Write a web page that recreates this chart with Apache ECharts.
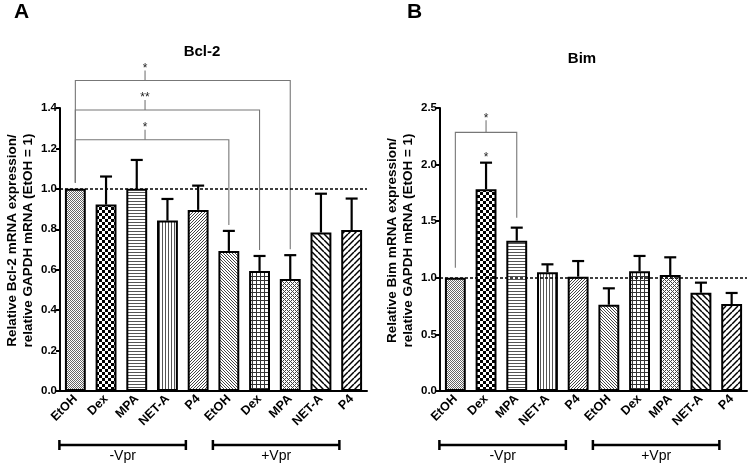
<!DOCTYPE html>
<html><head><meta charset="utf-8">
<script src="https://cdn.jsdelivr.net/npm/echarts@6/dist/echarts.min.js"></script>
<style>html,body{margin:0;padding:0;background:#fff}#c{width:751px;height:468px}</style>
</head><body><div id="c"></div>
<script>
// ---------------- data ----------------
const categories = ['EtOH','Dex','MPA','NET-A','P4','EtOH','Dex','MPA','NET-A','P4'];
const groupLabels = ['-Vpr','+Vpr'];
const groupFirst = [0,5];
const groupLast = [4,9];
const referenceLevel = 1.0;

const bclTitle = 'Bcl-2';
const bclYTicks = [0,0.2,0.4,0.6,0.8,1.0,1.2,1.4];
const bclMean = [1.0,0.922,1.0,0.843,0.896,0.693,0.594,0.554,0.784,0.796];
const bclSem  = [0,0.139,0.143,0.107,0.120,0.099,0.074,0.118,0.192,0.156];
const bclSigFrom  = [0,0,0];
const bclSigTo    = [5,6,7];
const bclSigLevel = [1.243,1.39,1.536];
const bclSigLabel = ['*','**','*'];
const bclBarSig = ['','','','','','','','','',''];

const bimTitle = 'Bim';
const bimYTicks = [0,0.5,1.0,1.5,2.0,2.5];
const bimMean = [1.0,1.782,1.328,1.049,1.010,0.762,1.057,1.025,0.868,0.768];
const bimSem  = [0,0.235,0.115,0.070,0.138,0.145,0.136,0.156,0.089,0.098];
const bimSigFrom  = [0];
const bimSigTo    = [2];
const bimSigLevel = [2.285];
const bimSigLabel = ['*'];
const bimBarSig = ['','*','','','','','','','',''];

// ---------------- styles ----------------
const FONT = "'Liberation Sans', Arial, Helvetica, sans-serif";

function tile(w, h, draw){
  const c = document.createElement('canvas'); c.width = w; c.height = h;
  const g = c.getContext('2d');
  g.fillStyle = '#fff'; g.fillRect(0,0,w,h);
  draw(g, w, h);
  return {image: c, repeat: 'repeat'};
}
function px(g, pts, col){ g.fillStyle = col; pts.forEach(p => g.fillRect(p[0], p[1], 1, 1)); }
function diagStroke(g, w, h, dir, lw){
  g.strokeStyle = '#000'; g.lineWidth = lw;
  for (let k = -w; k <= w; k += w){
    g.beginPath();
    if (dir > 0){ g.moveTo(k, h); g.lineTo(k + w, 0); }
    else { g.moveTo(k, 0); g.lineTo(k + w, h); }
    g.stroke();
  }
}
const patterns = [
  tile(2,2,(g)=>px(g,[[0,0],[1,1]],'#666')),                          // fine stipple
  tile(6,6,(g)=>{g.fillStyle='#000';g.fillRect(0,0,3,3);g.fillRect(3,3,3,3);}), // checker
  tile(1,3,(g)=>px(g,[[0,0]],'#555')),                                 // horizontal lines
  tile(3,1,(g)=>px(g,[[0,0]],'#555')),                                 // vertical lines
  tile(3,3,(g)=>px(g,[[2,0],[1,1],[0,2]],'#444')),                     // fine /
  tile(3,3,(g)=>px(g,[[0,0],[1,1],[2,2]],'#444')),                     // fine \
  tile(4,4,(g)=>{g.fillStyle='#333';g.fillRect(0,0,4,1);g.fillRect(0,0,1,4);}), // grid
  tile(4,4,(g)=>px(g,[[3,0],[2,1],[1,2],[0,3],[1,0],[3,2]],'#444')),   // weave
  tile(6,6,(g,w,h)=>diagStroke(g,w,h,-1,1.5)),                         // wide \
  tile(6,6,(g,w,h)=>diagStroke(g,w,h,1,1.5))                           // wide /
];

// ---------------- builders ----------------
const gridTop = 108, gridH = 283, gridW = 307;
const panels = [
  {left:60, title:bclTitle, ticks:bclYTicks, mean:bclMean, sem:bclSem,
   sigFrom:bclSigFrom, sigTo:bclSigTo, sigLevel:bclSigLevel, sigLabel:bclSigLabel, barSig:bclBarSig,
   name:'Relative Bcl-2 mRNA expression/\nrelative GAPDH mRNA (EtOH = 1)',
   tickAt:2.27, gap:6, tickLen:10, titleY:52, letter:'A', letterX:14},
  {left:440, title:bimTitle, ticks:bimYTicks, mean:bimMean, sem:bimSem,
   sigFrom:bimSigFrom, sigTo:bimSigTo, sigLevel:bimSigLevel, sigLabel:bimSigLabel, barSig:bimBarSig,
   name:'Relative Bim mRNA expression/\nrelative GAPDH mRNA (EtOH = 1)',
   tickAt:null, gap:10, tickLen:12, titleY:59, letter:'B', letterX:407}
];

const grid = [], xAxis = [], yAxis = [], series = [], graphic = [];
panels.forEach((P, k) => {
  grid.push({left:P.left, top:gridTop, width:gridW, height:gridH, outerBoundsMode:'none', containLabel:false});
  xAxis.push({type:'category', gridIndex:k, data:categories,
    axisLine:{lineStyle:{color:'#000', width:2}},
    axisTick:{alignWithLabel:true, length:4, lineStyle:{color:'#000', width:1.5}},
    axisLabel:{rotate:45, fontSize:12.5, fontWeight:'bold', color:'#000', fontFamily:FONT, margin:6, interval:0},
    splitLine:{show:false}});
  const t = P.ticks;
  yAxis.push({type:'value', gridIndex:k, min:t[0], max:t[t.length-1], interval:t[1]-t[0],
    name:P.name, nameLocation:'middle', nameGap:40, nameRotate:90,
    nameTextStyle:{fontSize:13.5, fontWeight:'bold', color:'#000', fontFamily:FONT, lineHeight:16,
      align:'center', verticalAlign:'middle', padding:[0,0,0,18]},
    axisLine:{show:true, lineStyle:{color:'#000', width:2}},
    axisTick:{show:true, length:4, lineStyle:{color:'#000', width:2}},
    axisLabel:{formatter:v=>v.toFixed(1), fontSize:11.5, fontWeight:'bold', color:'#000', fontFamily:FONT, margin:3},
    splitLine:{show:false}});

  // reference dashed line
  series.push({type:'line', xAxisIndex:k, yAxisIndex:k, data:[], z:1, silent:true,
    markLine:{silent:true, symbol:'none', label:{show:false},
      lineStyle:{color:'#000', type:[3,2], width:1.5},
      data:[{yAxis:referenceLevel}]}});

  // bars
  series.push({type:'bar', xAxisIndex:k, yAxisIndex:k, z:2, barWidth:'68%',
    itemStyle:{borderColor:'#000', borderWidth:2},
    data:P.mean.map((v,i)=>({value:v, itemStyle:{color:patterns[i]}}))});

  // error bars (upper only) + per-bar significance
  series.push({type:'custom', xAxisIndex:k, yAxisIndex:k, z:3, silent:true,
    encode:{x:0, y:1},
    data:P.mean.map((v,i)=>[i, v, P.sem[i]]),
    renderItem:(params, api)=>{
      const i = api.value(0), m = api.value(1), s = api.value(2);
      const p0 = api.coord([i, m]), p1 = api.coord([i, m + s]);
      const ch = [];
      if (s > 0){
        ch.push({type:'line', shape:{x1:p0[0], y1:p0[1], x2:p1[0], y2:p1[1]}, style:{stroke:'#000', lineWidth:2.2}});
        ch.push({type:'line', shape:{x1:p1[0]-6, y1:p1[1], x2:p1[0]+6, y2:p1[1]}, style:{stroke:'#000', lineWidth:2.2}});
      }
      const st = P.barSig[params.dataIndex];
      if (st) ch.push({type:'text', style:{text:st, x:p1[0], y:p1[1]-5, align:'center', verticalAlign:'middle',
        font:'12px ' + FONT, fill:'#222'}});
      return {type:'group', children:ch};
    }});

  // significance brackets
  series.push({type:'custom', xAxisIndex:k, yAxisIndex:k, z:4, silent:true, clip:false,
    encode:{x:0, y:2},
    data:P.sigFrom.map((f,j)=>[f, P.sigTo[j], P.sigLevel[j], j]),
    renderItem:(params, api)=>{
      const f = api.value(0), to = api.value(1), lev = api.value(2), j = api.value(3);
      const pF = api.coord([f, lev]), pT = api.coord([to, lev]);
      const yL = api.coord([f, P.mean[f] + P.sem[f]])[1] - P.gap;
      const yR = api.coord([to, P.mean[to] + P.sem[to]])[1] - P.gap;
      const band = api.size([1, 0])[0];
      const tx = P.tickAt == null ? (pF[0] + pT[0]) / 2 : api.coord([0, lev])[0] + P.tickAt * band;
      const top = pF[1] - P.tickLen;
      return {type:'group', children:[
        {type:'polyline', shape:{points:[[pF[0], yL],[pF[0], pF[1]],[pT[0], pT[1]],[pT[0], yR]]},
          style:{stroke:'#777', lineWidth:1.1, fill:null}},
        {type:'line', shape:{x1:tx, y1:pF[1], x2:tx, y2:top}, style:{stroke:'#777', lineWidth:1.1}},
        {type:'text', style:{text:P.sigLabel[j], x:tx, y:top - 2, align:'center', verticalAlign:'middle',
          font:'12px ' + FONT, fill:'#222'}}
      ]};
    }});

  // group brackets under the axis
  series.push({type:'custom', xAxisIndex:k, yAxisIndex:k, z:4, silent:true, clip:false,
    encode:{x:[0,1]},
    data:groupFirst.map((f,j)=>[f, groupLast[j], j]),
    renderItem:(params, api)=>{
      const f = api.value(0), l = api.value(1), j = api.value(2);
      const band = api.size([1, 0])[0];
      const y = api.coord([0, 0])[1] + 54;
      const x1 = api.coord([f, 0])[0] - 0.52 * band;
      const x2 = api.coord([l, 0])[0] - 0.4 * band;
      const sty = {stroke:'#000', lineWidth:2.5};
      return {type:'group', children:[
        {type:'line', shape:{x1:x1, y1:y, x2:x2, y2:y}, style:sty},
        {type:'line', shape:{x1:x1, y1:y-5, x2:x1, y2:y+5}, style:sty},
        {type:'line', shape:{x1:x2, y1:y-5, x2:x2, y2:y+5}, style:sty},
        {type:'text', style:{text:groupLabels[j], x:(x1+x2)/2, y:y+11, align:'center', verticalAlign:'middle',
          font:'14px ' + FONT, fill:'#000'}}
      ]};
    }});

  graphic.push({type:'text', x:P.left + 142, y:P.titleY, style:{text:P.title, align:'center', verticalAlign:'middle',
    font:'bold 15px ' + FONT, fill:'#000'}});
  graphic.push({type:'text', x:P.letterX, y:12, style:{text:P.letter, align:'left', verticalAlign:'middle',
    font:'bold 21px ' + FONT, fill:'#000'}});
});

const chart = echarts.init(document.getElementById('c'), null, {renderer:'canvas'});
chart.setOption({animation:false, backgroundColor:'#fff', textStyle:{fontFamily:FONT},
  grid, xAxis, yAxis, series, graphic});
</script></body></html>
